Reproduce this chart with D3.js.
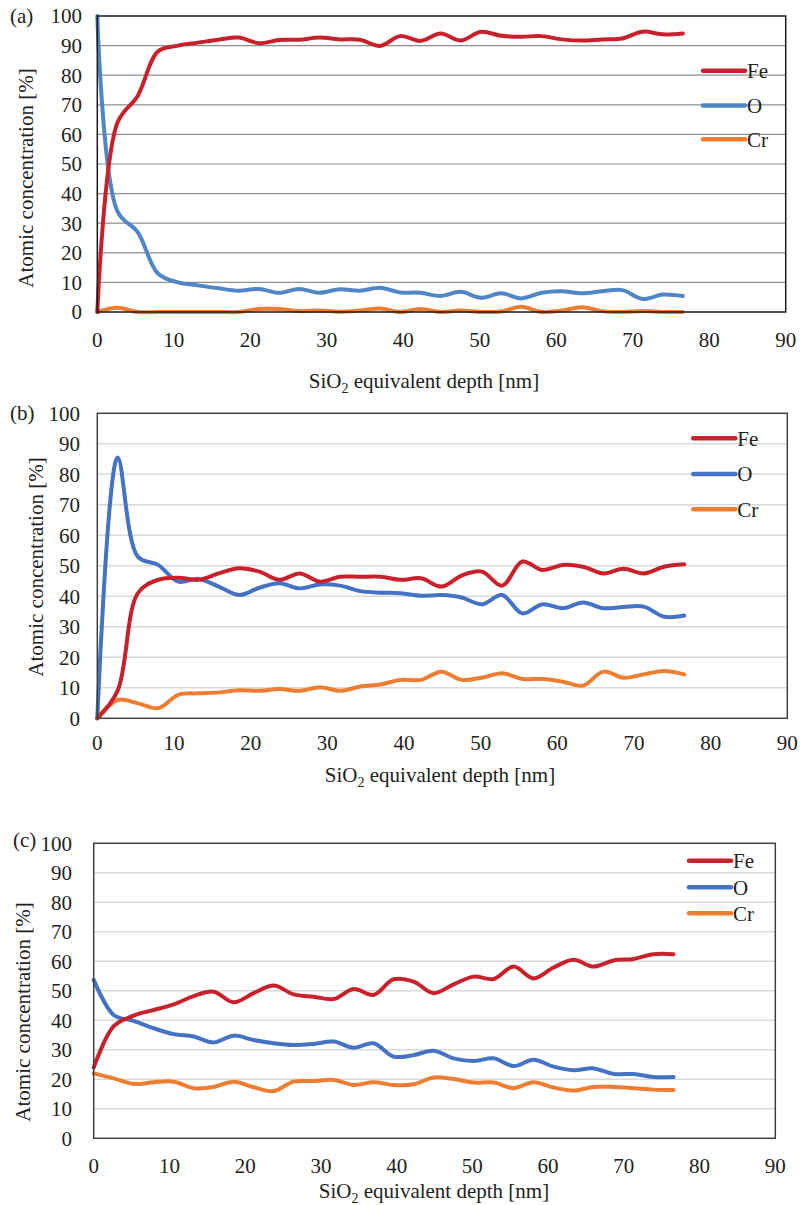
<!DOCTYPE html>
<html>
<head>
<meta charset="utf-8">
<script src="https://d3js.org/d3.v7.min.js"></script>
<style>
  body { margin: 0; background: #fff; }
</style>
</head>
<body>
<svg id="drawing_region"></svg>
<script>
// depth points (nm)
const depth = [0, 2.64, 5.28, 7.92, 10.56, 13.2, 15.84, 18.48, 21.12, 23.76, 26.4, 29.04, 31.68, 34.32, 36.96,
               39.6, 42.24, 44.88, 47.52, 50.16, 52.8, 55.44, 58.08, 60.72, 63.36, 66, 68.64, 71.28, 73.92, 76.56];

const seriesNames = ['Fe', 'O', 'Cr'];
const xTicks = [0, 10, 20, 30, 40, 50, 60, 70, 80, 90];
const yTicks = [0, 10, 20, 30, 40, 50, 60, 70, 80, 90, 100];

// (a)
const fe_a = [0, 64, 73, 88, 90, 91, 92, 92.7, 90.8, 91.9, 92, 92.7, 92.1, 92, 89.9,
              93.2, 91.6, 94.1, 91.7, 94.7, 93.3, 93, 93.2, 92.1, 91.7, 92.1, 92.4, 94.7, 93.8, 94.1];
const o_a  = [100, 34, 27, 13, 10, 9, 8, 7.2, 7.8, 6.5, 7.8, 6.5, 7.7, 7.2, 8.2,
              6.6, 6.5, 5.4, 6.8, 4.8, 6.3, 4.6, 6.5, 7, 6.3, 7, 7.4, 4.4, 5.9, 5.4];
const cr_a = [0, 1.4, 0, 0, 0, 0, 0, 0, 1, 1, 0.3, 0.5, 0.1, 0.5, 1.2,
              0, 1, 0, 0.5, 0, 0.2, 1.8, 0, 0.5, 1.6, 0.3, 0, 0.3, 0, 0];

// (b)
const fe_b = [0, 9, 41, 45.4, 46.1, 45.4, 47.5, 49.2, 48.1, 45.4, 47.5, 44.8, 46.4, 46.4, 46.4,
              45.4, 45.9, 43.2, 46.8, 48.1, 43.5, 51.4, 48.6, 50.3, 49.7, 47.5, 49, 47.5, 49.7, 50.5];
const o_b  = [0, 85.5, 53, 50.3, 44.8, 45.7, 43.2, 40.4, 42.8, 44.3, 42.6, 43.9, 43.5, 41.7, 41.2,
              41, 40.2, 40.4, 39.6, 37.4, 40.4, 34.4, 37.4, 36.1, 38, 36.1, 36.5, 36.6, 33.3, 33.7];
const cr_b = [0, 6, 4.9, 3.3, 7.7, 8.2, 8.5, 9.2, 9, 9.6, 9, 10.2, 9, 10.4, 11.1,
              12.6, 12.6, 15.3, 12.6, 13.3, 14.8, 12.9, 12.9, 12, 10.7, 15.3, 13.3, 14.4, 15.5, 14.4];

// (c)
const fe_c = [24, 38, 41.6, 43.5, 45.4, 48.2, 49.7, 46.1, 49.2, 51.8, 48.8, 48, 47.2, 50.6, 48.6,
              53.9, 53.1, 49.2, 52.2, 54.8, 54, 58.2, 54.2, 57.9, 60.5, 58.2, 60.3, 60.8, 62.4, 62.4];
const o_c  = [53.7, 41.8, 39.8, 37.3, 35.3, 34.5, 32.5, 34.8, 33.3, 32.2, 31.6, 32, 32.8, 30.7, 32.2,
              27.7, 28.2, 29.7, 27.1, 26.2, 27.1, 24.5, 26.6, 24.3, 23.1, 23.7, 21.8, 21.8, 20.8, 20.8];
const cr_c = [22, 20.3, 18.4, 19, 19.2, 17, 17.4, 19.2, 17.3, 16, 19.2, 19.4, 19.8, 18.1, 19,
              18.1, 18.3, 20.6, 20.1, 18.9, 18.9, 17, 19, 17.2, 16.2, 17.4, 17.4, 17, 16.5, 16.4];

const FONT = "'Liberation Serif', 'Times New Roman', 'DejaVu Serif', serif";

const svg = d3.select('#drawing_region')
    .attr('width', 805)
    .attr('height', 1205)
    .style('font-family', FONT);

const panels = [
  { label: '(a)', labelX: 10, labelY: 16,
    left: 97.3, right: 785.7, top: 16, bottom: 312,
    series: [fe_a, o_a, cr_a], colors: ['#c8212b', '#4e86c6', '#ed7d31'],
    grid: '#8f8f8f', frame: '#1a1a1a',
    yLabelRight: 82, xLabelBase: 347, xTitleX: 424, xTitleBase: 388,
    yTitleX: 26, yTitleY: 178,
    legendX: 703, legendY: [70.7, 105.5, 139.3] },
  { label: '(b)', labelX: 10, labelY: 413,
    left: 97.3, right: 787.3, top: 413.3, bottom: 718.3,
    series: [fe_b, o_b, cr_b], colors: ['#c8212b', '#4472c4', '#ed7d31'],
    grid: '#d9d9d9', frame: '#404040',
    yLabelRight: 80, xLabelBase: 750, xTitleX: 440, xTitleBase: 782,
    yTitleX: 36, yTitleY: 567,
    legendX: 693.3, legendY: [438.3, 474, 509.3] },
  { label: '(c)', labelX: 13, labelY: 840,
    left: 93.7, right: 775.3, top: 843.3, bottom: 1138.3,
    series: [fe_c, o_c, cr_c], colors: ['#c8212b', '#4472c4', '#ed7d31'],
    grid: '#d9d9d9', frame: '#404040',
    yLabelRight: 72, xLabelBase: 1173, xTitleX: 434, xTitleBase: 1198,
    yTitleX: 23, yTitleY: 1012,
    legendX: 689, legendY: [860.7, 887.3, 913.3] }
];

panels.forEach((p, pi) => drawPanel(p, pi));

function label(sel) {
  return sel.attr('font-family', FONT).attr('fill', '#222');
}

function drawPanel(p, pi) {
  const x = d3.scaleLinear().domain([0, 90]).range([p.left, p.right]);
  const y = d3.scaleLinear().domain([0, 100]).range([p.bottom, p.top]);

  const g = svg.append('g');

  // gridlines
  g.selectAll('line.grid')
      .data(yTicks.filter(d => d > 0 && d < 100))
      .enter()
      .append('line')
      .attr('x1', p.left).attr('x2', p.right)
      .attr('y1', d => y(d)).attr('y2', d => y(d))
      .attr('stroke', p.grid)
      .attr('stroke-width', pi === 0 ? 1.2 : 1.5);

  // y tick labels
  label(g.selectAll('text.ytick')
      .data(yTicks)
      .enter()
      .append('text'))
      .attr('x', p.yLabelRight)
      .attr('y', d => y(d))
      .attr('dy', '0.35em')
      .attr('text-anchor', 'end')
      .attr('font-size', 21)
      .text(d => d);

  // x tick labels
  label(g.selectAll('text.xtick')
      .data(xTicks)
      .enter()
      .append('text'))
      .attr('x', d => x(d))
      .attr('y', p.xLabelBase)
      .attr('text-anchor', 'middle')
      .attr('font-size', 21)
      .text(d => d);

  // clip for smoothed lines
  const clipId = 'clip' + pi;
  svg.append('clipPath').attr('id', clipId)
      .append('rect')
      .attr('x', p.left - 3).attr('y', p.top - 3)
      .attr('width', p.right - p.left + 6)
      .attr('height', p.bottom - p.top + 6);

  const line = d3.line()
      .x((d, i) => x(depth[i]))
      .y(d => y(d))
      .curve(d3.curveCatmullRom.alpha(0.5));

  // draw Cr first, then O, then Fe on top
  [2, 1, 0].forEach(k => {
    g.append('path')
        .datum(p.series[k])
        .attr('d', line)
        .attr('clip-path', `url(#${clipId})`)
        .attr('fill', 'none')
        .attr('stroke', p.colors[k])
        .attr('stroke-width', 4)
        .attr('stroke-linejoin', 'round')
        .attr('stroke-linecap', 'round');
  });

  // frame
  g.append('rect')
      .attr('x', p.left).attr('y', p.top)
      .attr('width', p.right - p.left)
      .attr('height', p.bottom - p.top)
      .attr('fill', 'none')
      .attr('stroke', p.frame)
      .attr('stroke-width', 1.5);

  // legend
  seriesNames.forEach((name, k) => {
    g.append('line')
        .attr('x1', p.legendX).attr('x2', p.legendX + 42)
        .attr('y1', p.legendY[k]).attr('y2', p.legendY[k])
        .attr('stroke', p.colors[k])
        .attr('stroke-width', 4.5)
        .attr('stroke-linecap', 'round');
    label(g.append('text'))
        .attr('x', p.legendX + 44)
        .attr('y', p.legendY[k])
        .attr('dy', '0.35em')
        .attr('font-size', 21)
        .text(name);
  });

  // axis titles
  const xt = label(g.append('text'))
      .attr('x', p.xTitleX)
      .attr('y', p.xTitleBase)
      .attr('text-anchor', 'middle')
      .attr('font-size', 21);
  xt.append('tspan').text('SiO');
  xt.append('tspan').attr('dy', 5).attr('font-size', 14).text('2');
  xt.append('tspan').attr('dy', -5).text(' equivalent depth [nm]');

  label(g.append('text'))
      .attr('transform', `translate(${p.yTitleX}, ${p.yTitleY}) rotate(-90)`)
      .attr('dy', '0.35em')
      .attr('text-anchor', 'middle')
      .attr('font-size', 21)
      .text('Atomic concentration [%]');

  // panel label
  label(g.append('text'))
      .attr('x', p.labelX)
      .attr('y', p.labelY)
      .attr('dy', '0.35em')
      .attr('font-size', 21)
      .text(p.label);
}
</script>
</body>
</html>
